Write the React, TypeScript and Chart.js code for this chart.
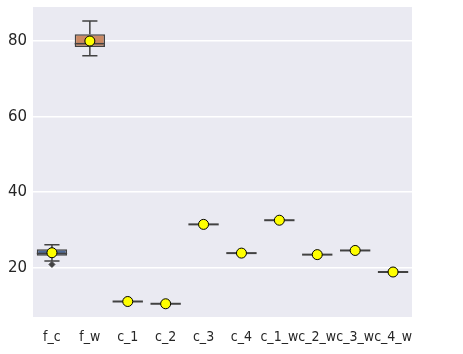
import React, { useEffect, useRef } from "react";
import { Chart, registerables } from "chart.js";
Chart.register(...registerables);

const categories = ["f_c", "f_w", "c_1", "c_2", "c_3", "c_4", "c_1_w", "c_2_w", "c_3_w", "c_4_w"];
const q1Values = [23.2, 78.4, 11.1, 10.5, 31.5, 23.9, 32.6, 23.5, 24.6, 18.9];
const q3Values = [24.9, 81.8, 11.1, 10.5, 31.5, 23.9, 32.6, 23.5, 24.6, 18.9];
const medianValues = [23.8, 79.3, 11.1, 10.5, 31.5, 23.9, 32.6, 23.5, 24.6, 18.9];
const whiskerLow = [21.8, 76.1, 11.1, 10.5, 31.5, 23.9, 32.6, 23.5, 24.6, 18.9];
const whiskerHigh = [26.1, 85.3, 11.1, 10.5, 31.5, 23.9, 32.6, 23.5, 24.6, 18.9];
const meanValues = [24.0, 80.0, 11.1, 10.5, 31.5, 23.9, 32.6, 23.5, 24.6, 18.9];
const outlierCategories = ["f_c"];
const outlierValues = [20.9];
const yTicks = [20, 40, 60, 80];
const boxColors = ["#4f6a96", "#cc8963", "#5f9e6e", "#b55d60", "#857aab", "#8d7866", "#d095bf", "#8c8c8c", "#c1b37f", "#64b5cd"];

const LINE = "#424242";

const bgPlugin = {
  id: "bgPlugin",
  beforeDraw(chart: any) {
    const { ctx, chartArea } = chart;
    ctx.save();
    ctx.fillStyle = "#eaeaf2";
    ctx.fillRect(chartArea.left, chartArea.top, chartArea.right - chartArea.left, chartArea.bottom - chartArea.top);
    ctx.restore();
  },
};

const boxPlugin = {
  id: "boxPlugin",
  afterDatasetDraw(chart: any, args: any) {
    if (args.index !== 0) return;
    const { ctx } = chart;
    const meta = chart.getDatasetMeta(0);
    const y = chart.scales.y;
    ctx.save();
    ctx.strokeStyle = LINE;
    meta.data.forEach((bar: any, i: number) => {
      const cx = bar.x;
      const w = bar.width;
      const yq1 = y.getPixelForValue(q1Values[i]);
      const yq3 = y.getPixelForValue(q3Values[i]);
      const ylo = y.getPixelForValue(whiskerLow[i]);
      const yhi = y.getPixelForValue(whiskerHigh[i]);
      const ymed = y.getPixelForValue(medianValues[i]);
      ctx.lineWidth = 1.5;
      ctx.beginPath();
      ctx.moveTo(cx, yq1);
      ctx.lineTo(cx, ylo);
      ctx.moveTo(cx, yq3);
      ctx.lineTo(cx, yhi);
      if (whiskerHigh[i] !== whiskerLow[i]) {
        ctx.moveTo(cx - w / 4, ylo);
        ctx.lineTo(cx + w / 4, ylo);
        ctx.moveTo(cx - w / 4, yhi);
        ctx.lineTo(cx + w / 4, yhi);
      }
      ctx.stroke();
      ctx.lineWidth = q1Values[i] === q3Values[i] ? 2 : 1.5;
      ctx.beginPath();
      ctx.moveTo(cx - w / 2, ymed);
      ctx.lineTo(cx + w / 2, ymed);
      ctx.stroke();
    });
    ctx.restore();
  },
};

export default function App() {
  const ref = useRef<HTMLCanvasElement>(null);
  useEffect(() => {
    document.body.style.margin = "0";
    const chart = new Chart(ref.current!, {
      type: "bar",
      data: {
        labels: categories,
        datasets: [
          {
            type: "bar",
            data: categories.map((_, i) => [q1Values[i], q3Values[i]]) as any,
            backgroundColor: boxColors,
            borderColor: LINE,
            borderWidth: 1.5,
            borderSkipped: false,
            barPercentage: 0.8,
            categoryPercentage: 1,
            order: 3,
          } as any,
          {
            type: "line",
            data: meanValues,
            showLine: false,
            pointStyle: "circle",
            pointRadius: 5,
            pointBackgroundColor: "#ffff00",
            pointBorderColor: "#000000",
            pointBorderWidth: 1,
            order: 1,
          } as any,
          {
            type: "line",
            data: outlierCategories.map((c, i) => ({ x: c, y: outlierValues[i] })),
            showLine: false,
            pointStyle: "rectRot",
            pointRadius: 3,
            pointBackgroundColor: LINE,
            pointBorderColor: LINE,
            pointBorderWidth: 1,
            order: 2,
          } as any,
        ],
      },
      options: {
        responsive: false,
        animation: false,
        layout: { padding: { top: 7, right: 51, left: 0, bottom: 0 } },
        plugins: { legend: { display: false }, tooltip: { enabled: false } },
        scales: {
          x: {
            type: "category",
            offset: true,
            grid: { display: false, drawTicks: false },
            border: { display: false },
            ticks: {
              color: "#262626",
              padding: 12,
              maxRotation: 0,
              autoSkip: false,
              font: { family: "'DejaVu Sans Condensed', 'DejaVu Sans', sans-serif", size: 14 },
            },
            afterFit(scale: any) {
              scale.height = 37;
              scale.paddingLeft = 0;
              scale.paddingRight = 0;
            },
          },
          y: {
            min: 7.0,
            max: 89.0,
            grid: { color: "#ffffff", lineWidth: 1.5, drawTicks: false },
            border: { display: false },
            ticks: {
              color: "#262626",
              padding: 6,
              font: { family: "'DejaVu Sans', sans-serif", size: 15 },
            },
            afterBuildTicks(scale: any) {
              scale.ticks = yTicks.map((v) => ({ value: v }));
            },
            afterFit(scale: any) {
              scale.width = 33;
              scale.paddingTop = 0;
              scale.paddingBottom = 0;
            },
          },
        },
      } as any,
      plugins: [bgPlugin, boxPlugin],
    });
    return () => chart.destroy();
  }, []);
  return (
    <div style={{ width: 463, height: 354 }}>
      <canvas ref={ref} width={463} height={354} />
    </div>
  );
}
